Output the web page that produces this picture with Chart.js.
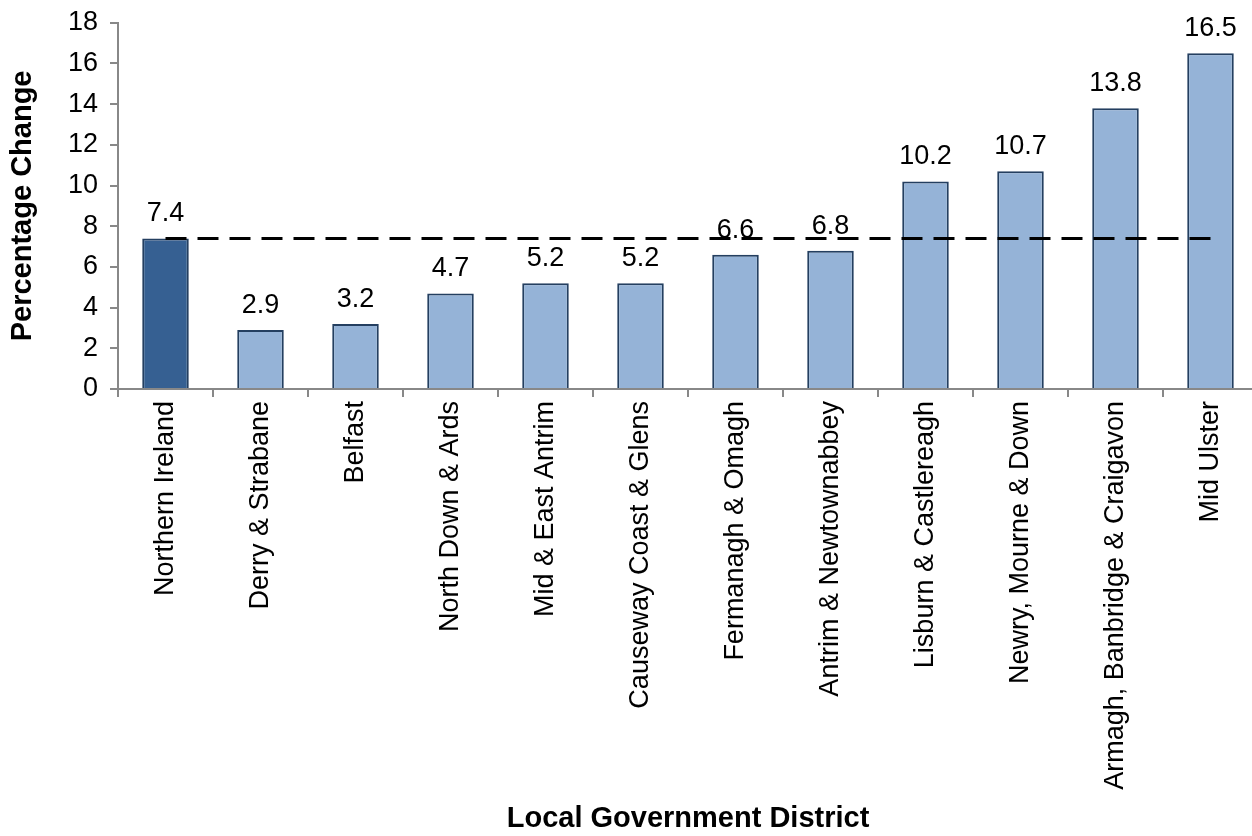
<!DOCTYPE html>
<html>
<head>
<meta charset="utf-8">
<script src="https://cdn.jsdelivr.net/npm/chart.js@4.4.1/dist/chart.umd.min.js"></script>
<style>
  html, body { margin: 0; padding: 0; background: #fff; overflow: hidden; }
  #wrap { width: 1260px; height: 836px; }
</style>
</head>
<body>
<div id="wrap"><canvas id="myChart" width="1260" height="836"></canvas></div>
<script>
// districts, in order of increase
var districts = [
  'Northern Ireland', 'Derry & Strabane', 'Belfast', 'North Down & Ards',
  'Mid & East Antrim', 'Causeway Coast & Glens', 'Fermanagh & Omagh',
  'Antrim & Newtownabbey', 'Lisburn & Castlereagh', 'Newry, Mourne & Down',
  'Armagh, Banbridge & Craigavon', 'Mid Ulster'
];
var pctChange = [7.4, 2.9, 3.2, 4.7, 5.2, 5.2, 6.6, 6.8, 10.2, 10.7, 13.8, 16.5];
var niAverage = 7.4;
var yTicks = [0, 2, 4, 6, 8, 10, 12, 14, 16, 18];

var FONT = '"Liberation Sans", Arial, sans-serif';
var AXIS_GREY = '#888888';

// first bar (NI total) is darker than the districts
var barColours = pctChange.map(function (v, i) { return i === 0 ? '#366092' : '#95B3D7'; });

// value labels above each bar
var valueLabels = {
  id: 'valueLabels',
  afterDatasetsDraw: function (chart) {
    var ctx = chart.ctx;
    var meta = chart.getDatasetMeta(0);
    ctx.save();
    ctx.font = '27px ' + FONT;
    ctx.fillStyle = '#000';
    ctx.textAlign = 'center';
    ctx.textBaseline = 'alphabetic';
    meta.data.forEach(function (bar, i) {
      ctx.fillText(pctChange[i].toFixed(1), bar.x, bar.y - 17);
    });
    ctx.restore();
  }
};

var ctx = document.getElementById('myChart').getContext('2d');
var myChart = new Chart(ctx, {
  type: 'bar',
  data: {
    labels: districts,
    datasets: [{
      label: 'Percentage Change',
      data: pctChange,
      backgroundColor: barColours,
      borderColor: '#243F60',
      borderWidth: 2,
      barPercentage: 0.49,
      categoryPercentage: 1,
      order: 1
    }, {
      type: 'line',
      label: 'Northern Ireland',
      data: districts.map(function () { return niAverage; }),
      borderColor: '#000',
      borderWidth: 3,
      borderDash: [21, 11],
      pointRadius: 0,
      fill: false,
      order: 0
    }]
  },
  options: {
    responsive: false,
    animation: false,
    layout: { padding: { left: 0, right: 2, top: 3, bottom: 0 } },
    plugins: {
      legend: { display: false },
      tooltip: { enabled: false }
    },
    scales: {
      x: {
        offset: true,
        grid: {
          offset: true,
          drawOnChartArea: false,
          drawTicks: true,
          tickLength: 8,
          color: AXIS_GREY,
          lineWidth: 2
        },
        border: { display: true, color: AXIS_GREY, width: 2 },
        ticks: {
          minRotation: 90,
          maxRotation: 90,
          autoSkip: false,
          padding: 4,
          color: '#000',
          font: { family: FONT, size: 27 }
        },
        title: {
          display: true,
          text: 'Local Government District',
          color: '#000',
          font: { family: FONT, size: 29, weight: 'bold', lineHeight: 1 },
          padding: { top: 0, bottom: 3 }
        },
        afterFit: function (scale) { scale.height = 447; }
      },
      y: {
        min: 0,
        max: 18,
        afterBuildTicks: function (scale) {
          scale.ticks = yTicks.map(function (v) { return { value: v }; });
        },
        grid: {
          drawOnChartArea: false,
          drawTicks: true,
          tickLength: 8,
          color: AXIS_GREY,
          lineWidth: 2
        },
        border: { display: true, color: AXIS_GREY, width: 2 },
        ticks: {
          padding: 12,
          color: '#000',
          font: { family: FONT, size: 27, lineHeight: 0.8 }
        },
        title: {
          display: true,
          text: 'Percentage Change',
          color: '#000',
          font: { family: FONT, size: 29, weight: 'bold', lineHeight: 1 },
          padding: { top: 8, bottom: 0 }
        },
        afterFit: function (scale) { scale.width = 118; }
      }
    }
  },
  plugins: [valueLabels]
});
</script>
</body>
</html>
